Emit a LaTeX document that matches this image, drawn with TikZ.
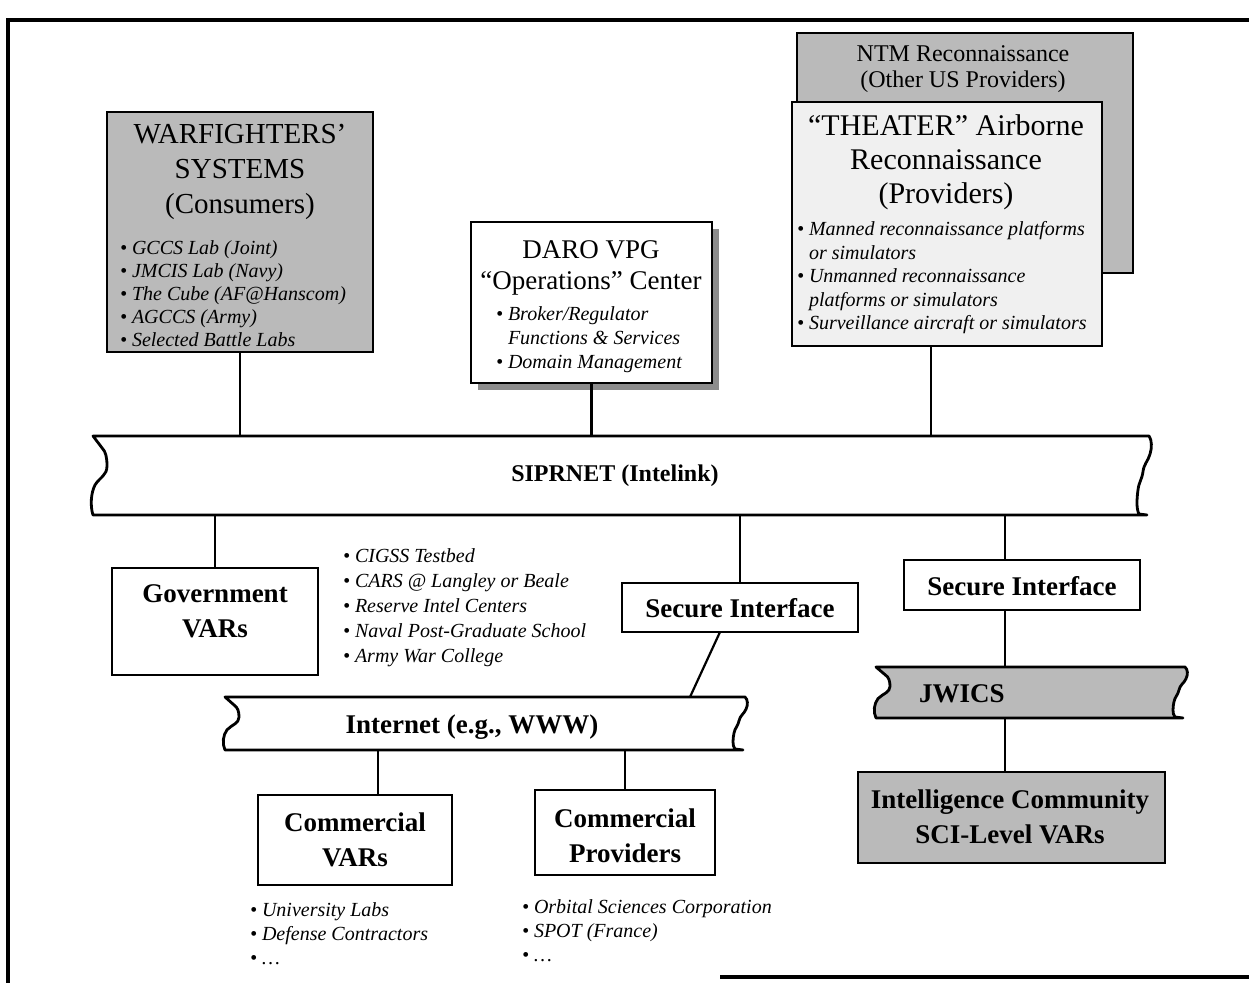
\documentclass[tikz,border=0pt]{standalone}
\usepackage{fontspec}
\setmainfont{Liberation Serif}
\usetikzlibrary{fit,calc}
\newcommand\myfs[2]{\fontsize{#1pt}{#2pt}\selectfont}
% network bar with torn (wavy) ends: style, x0, x1, ytop, ybottom
\newcommand\wavybar[5]{%
  \path[#1] (#2,#4) -- (#3,#4)
    .. controls ({#3+3},{#4+0.05*(#5-#4)}) and ({#3+3},{#4+0.15*(#5-#4)}) .. ({#3+1},{#4+0.23*(#5-#4)})
    .. controls ({#3-1},{#4+0.32*(#5-#4)}) and ({#3-5},{#4+0.35*(#5-#4)}) .. ({#3-6},{#4+0.45*(#5-#4)})
    .. controls ({#3-7},{#4+0.55*(#5-#4)}) and ({#3-10},{#4+0.58*(#5-#4)}) .. ({#3-11},{#4+0.68*(#5-#4)})
    .. controls ({#3-12},{#4+0.78*(#5-#4)}) and ({#3-13},{#4+0.92*(#5-#4)}) .. ({#3-10},{#5-1})
    -- ({#3-2},{#5}) -- (#2,#5)
    .. controls ({#2-3},{#4+0.88*(#5-#4)}) and ({#2-2},{#4+0.72*(#5-#4)}) .. ({#2+2},{#4+0.62*(#5-#4)})
    .. controls ({#2+7},{#4+0.52*(#5-#4)}) and ({#2+14},{#4+0.5*(#5-#4)}) .. ({#2+14},{#4+0.38*(#5-#4)})
    .. controls ({#2+14},{#4+0.28*(#5-#4)}) and ({#2+13},{#4+0.2*(#5-#4)}) .. ({#2+9},{#4+0.15*(#5-#4)})
    -- cycle;%
}
\begin{document}
\begin{tikzpicture}[x=0.5pt,y=-0.5pt,
  every node/.style={inner sep=0pt, outer sep=0pt},
  box/.style={draw, line width=1.4pt, inner sep=0pt},
  barline/.style={draw, line width=1.4pt, line join=round},
  conn/.style={line width=1.1pt},
  frameline/.style={line width=1.6pt},
  shade/.style={fill=black!27},
  light/.style={fill=black!6},
  titletext/.style={align=center, font=\myfs{14.5}{17.5}},
  bigbold/.style={align=center, font=\bfseries\myfs{13.5}{17.5}},
  items/.style={align=left, anchor=west, font=\itshape\myfs{10}{11.5}},
]
\useasboundingbox (0,0) rectangle (1249,983);

% page frame
\draw[frameline] (1249,20) -- (8,20) -- (8,983);
\draw[frameline] (720,977) -- (1249,977);

% warfighters' systems
\node[box, shade, fit={(107,112)(373,352)}] (wf) {};
\node[titletext] (wft) at (240,172) {WARFIGHTERS’\\SYSTEMS\\(Consumers)};
\node[items] (wfl) at (120,294) {\textbullet\ GCCS Lab (Joint)\\\textbullet\ JMCIS Lab (Navy)\\\textbullet\ The Cube (AF@Hanscom)\\\textbullet\ AGCCS (Army)\\\textbullet\ Selected Battle Labs};

% operations center with drop shadow
\fill[black!45] (478,229) rectangle (719,390);
\node[box, fill=white, fit={(471,222)(712,383)}] (daro) {};
\node[align=center, font=\myfs{13.5}{15.5}] (darot) at (591,268) {DARO VPG\\“Operations” Center};
\node[items, font=\itshape\myfs{10}{12}] (darol) at (496,340) {\textbullet\ Broker/Regulator\\\phantom{\textbullet\ }Functions \& Services\\\textbullet\ Domain Management};

% reconnaissance providers
\node[box, shade, fit={(797,33)(1133,273)}] (ntm) {};
\node[align=center, font=\myfs{12}{13}] (ntmt) at (963,69) {NTM Reconnaissance\\(Other US Providers)};
\node[box, light, fit={(792,102)(1102,346)}] (th) {};
\node[titletext, font=\myfs{15}{17}] (tht) at (946,162) {“THEATER” Airborne\\Reconnaissance\\(Providers)};
\node[items, font=\itshape\myfs{10}{11.75}] (thl) at (797,278) {\textbullet\ Manned reconnaissance platforms\\\phantom{\textbullet\ }or simulators\\\textbullet\ Unmanned reconnaissance\\\phantom{\textbullet\ }platforms or simulators\\\textbullet\ Surveillance aircraft or simulators};

% SIPRNET backbone
\wavybar{barline, fill=white}{93}{1149}{436}{515}
\node[fit={(93,436)(1149,515)}] (sip) {};
\node[font=\bfseries\myfs{12}{14}] (sipt) at (615,476) {SIPRNET (Intelink)};

% government VARs
\node[box, fit={(112,568)(318,675)}] (gov) {};
\node[bigbold] (govt) at (215,611) {Government\\VARs};
\node[items, font=\itshape\myfs{10}{12.5}] (govl) at (343,608) {\textbullet\ CIGSS Testbed\\\textbullet\ CARS @ Langley or Beale\\\textbullet\ Reserve Intel Centers\\\textbullet\ Naval Post-Graduate School\\\textbullet\ Army War College};

% secure interfaces
\node[box, fit={(622,583)(858,632)}] (si1) {};
\node[bigbold] (si1t) at (740,608) {Secure Interface};
\node[box, fit={(904,560)(1140,610)}] (si2) {};
\node[bigbold] (si2t) at (1022,586) {Secure Interface};

% internet
\wavybar{barline, fill=white}{225}{745}{697}{750}
\node[fit={(225,697)(745,750)}] (inet) {};
\node[bigbold] (inett) at (472,727) {Internet (e.g., WWW)};

% commercial
\node[box, fit={(258,795)(452,885)}] (cv) {};
\node[bigbold] (cvt) at (355,840) {Commercial\\VARs};
\node[items, font=\itshape\myfs{10}{12}] (cvl) at (250,934) {\textbullet\ University Labs\\\textbullet\ Defense Contractors\\\textbullet\ …};
\node[box, fit={(535,790)(715,875)}] (cp) {};
\node[bigbold] (cpt) at (625,836) {Commercial\\Providers};
\node[items, font=\itshape\myfs{10}{12}] (cpl) at (522,931) {\textbullet\ Orbital Sciences Corporation\\\textbullet\ SPOT (France)\\\textbullet\ …};

% JWICS and intelligence community
\wavybar{barline, fill=black!27}{876}{1185}{667}{718}
\node[fit={(876,667)(1185,718)}] (jw) {};
\node[bigbold] (jwt) at (962,694) {JWICS};
\node[box, shade, fit={(858,772)(1165,863)}] (ic) {};
\node[bigbold] (ict) at (1010,817) {Intelligence Community\\SCI-Level VARs};

% connections
\draw[conn] (wf.south) -- (wf.south |- sip.north);
\draw[conn] (daro.south) -- (daro.south |- sip.north);
\draw[conn] ([xshift=-8pt]th.south) -- ([xshift=-8pt]th.south |- sip.north);
\draw[conn] (sip.south -| gov.north) -- (gov.north);
\draw[conn] (sip.south -| si1.north) -- (si1.north);
\draw[conn] ([xshift=-8.5pt]sip.south -| si2.north) -- ([xshift=-8.5pt]si2.north);
\draw[conn] ([xshift=-10pt]si1.south) -- ([xshift=102.5pt]inet.north);
\draw[conn] ([xshift=-8.5pt]si2.south) -- ([xshift=-8.5pt]si2.south |- jw.north);
\draw[conn] ([xshift=-8.5pt]si2.south |- jw.south) -- ([xshift=-8.5pt]si2.south |- ic.north);
\draw[conn] ([xshift=11.5pt]cv.north |- inet.south) -- ([xshift=11.5pt]cv.north);
\draw[conn] (cp.north |- inet.south) -- (cp.north);
\end{tikzpicture}
\end{document}
